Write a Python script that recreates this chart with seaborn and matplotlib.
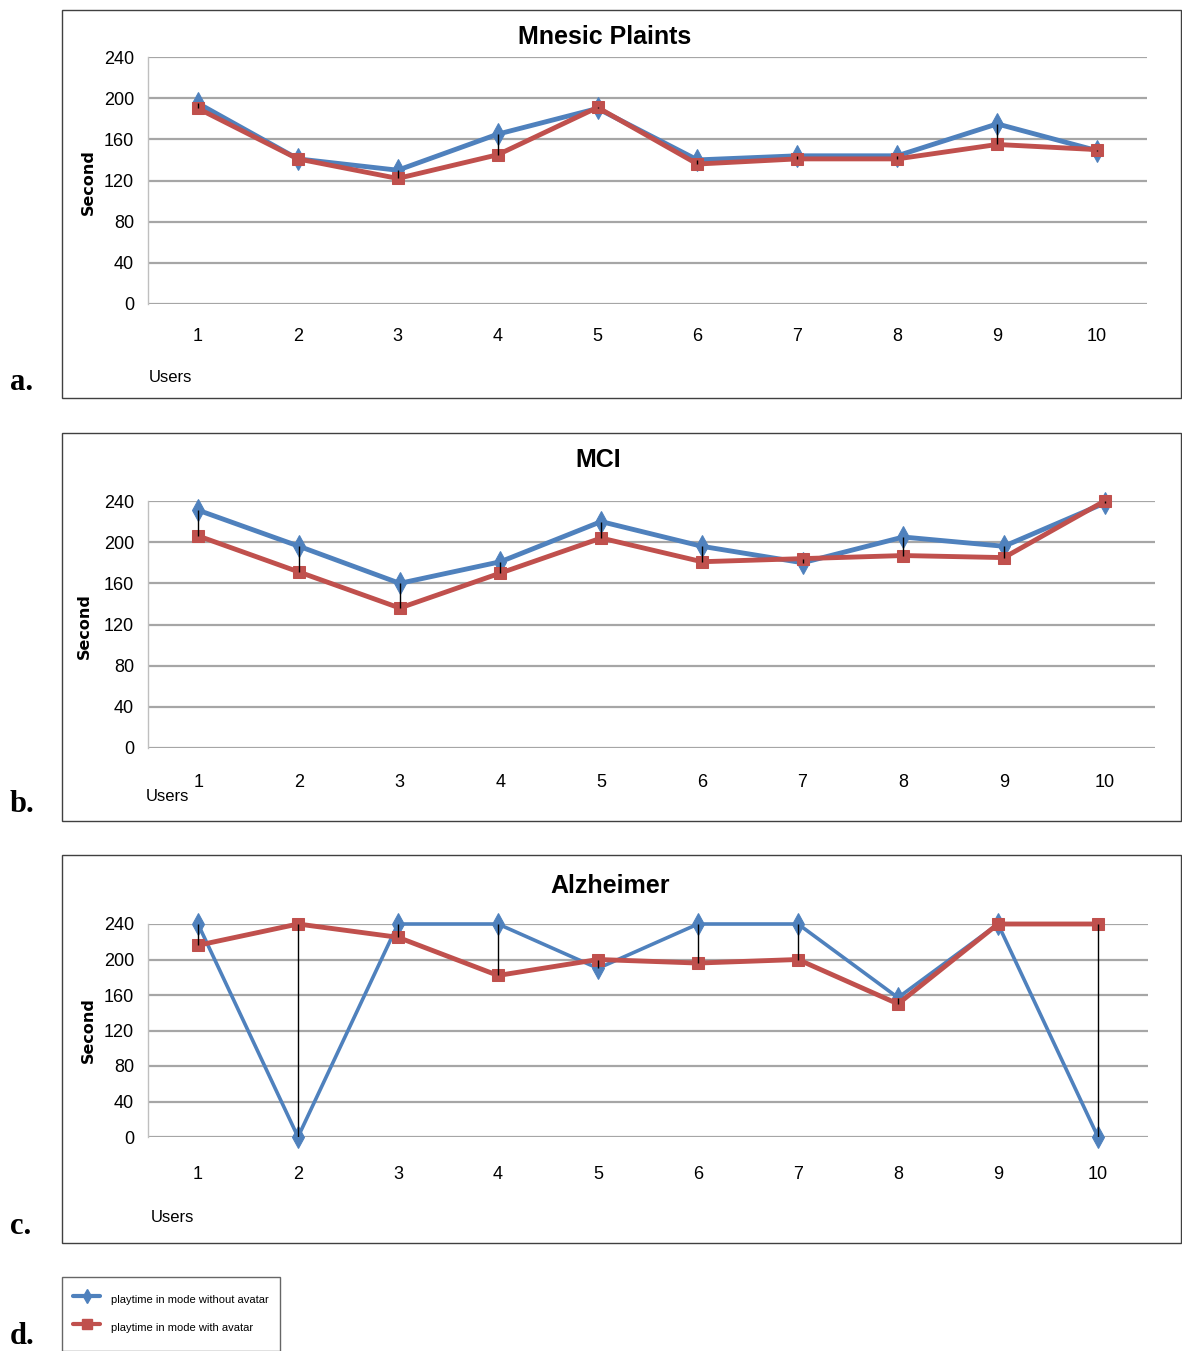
import matplotlib.pyplot as plt
import seaborn as sns
from matplotlib.lines import Line2D
from matplotlib.patches import Rectangle

USERS = list(range(1, 11))
Y_TICKS = [0, 40, 80, 120, 160, 200, 240]

TITLES = ["Mnesic Plaints", "MCI", "Alzheimer"]
PANEL_LETTERS = ["a.", "b.", "c.", "d."]
LEGEND_LABELS = ["playtime in mode without avatar", "playtime in mode with avatar"]

# seconds played
MNESIC_NO_AVATAR = [195, 141, 130, 165, 190, 140, 144, 144, 175, 149]
MNESIC_AVATAR = [190, 141, 122, 145, 191, 136, 141, 141, 155, 150]
MCI_NO_AVATAR = [231, 196, 160, 181, 220, 196, 180, 205, 196, 238]
MCI_AVATAR = [206, 171, 136, 170, 204, 181, 184, 187, 185, 240]
ALZ_NO_AVATAR = [240, 0, 240, 240, 190, 240, 240, 157, 240, 0]
ALZ_AVATAR = [216, 240, 225, 182, 200, 196, 200, 150, 240, 240]

BLUE = "#4F81BD"
RED = "#C0504D"
GRID = "#A6A6A6"
SANS = ["Liberation Sans", "DejaVu Sans"]

W, H = 1182, 1351


def fx(px):
    return px / W


def fy(py):
    return 1 - py / H


def draw_panel(fig, rect, title, title_xy, no_avatar, avatar, blue_lw, tick_pad,
               users_xy, second_xy, frame, letter_y):
    x0, y0, x1, y1 = rect
    ax = fig.add_axes([fx(x0), fy(y1), fx(x1 - x0), (y1 - y0) / H])

    sns.lineplot(x=USERS, y=no_avatar, color=BLUE, linewidth=blue_lw, marker="d",
                 markersize=11, markeredgecolor=BLUE, ax=ax, zorder=3, clip_on=False)
    sns.lineplot(x=USERS, y=avatar, color=RED, linewidth=3.5, marker="s",
                 markersize=9, markeredgecolor=RED, ax=ax, zorder=4, clip_on=False)
    lows = [min(a, b) for a, b in zip(no_avatar, avatar)]
    highs = [max(a, b) for a, b in zip(no_avatar, avatar)]
    ax.vlines(USERS, lows, highs, color="black", linewidth=1, zorder=5)

    ax.set_xlim(0.5, 10.5)
    ax.set_ylim(0, 240)
    ax.set_xticks(USERS)
    ax.set_yticks(Y_TICKS)
    ax.set_xlabel("")
    ax.set_ylabel("")
    ax.grid(axis="y", color=GRID, linewidth=1.6)
    ax.set_axisbelow(True)
    for side in ["top", "right", "bottom"]:
        ax.spines[side].set_visible(False)
    ax.spines["left"].set_color("#BFBFBF")
    ax.spines["left"].set_linewidth(1)
    ax.tick_params(axis="y", length=6, color=GRID, width=1.6, pad=4, labelsize=13,
                   labelcolor="black")
    ax.tick_params(axis="x", length=0, pad=tick_pad, labelsize=13, labelcolor="black")
    for lab in ax.get_xticklabels() + ax.get_yticklabels():
        lab.set_family(SANS)
    ax.patch.set_alpha(0)

    fig.text(fx(title_xy[0]), fy(title_xy[1]), title, ha="center", va="center",
             fontsize=18, fontweight="bold", family=SANS, color="black")
    fig.text(fx(users_xy[0]), fy(users_xy[1]), "Users", ha="center", va="center",
             fontsize=12, family=SANS, color="black")
    fig.text(fx(second_xy[0]), fy(second_xy[1]), "Second", ha="center", va="center",
             rotation=90, fontsize=11.5, fontweight="bold", family="DejaVu Sans",
             color="black")

    fx0, fy0, fx1, fy1 = frame
    fig.patches.append(Rectangle((fx(fx0), fy(fy1)), fx(fx1 - fx0), (fy1 - fy0) / H,
                                 transform=fig.transFigure, fill=False,
                                 edgecolor="#404040", linewidth=1))
    return ax


def main():
    sns.set_style("white")
    plt.rcParams["font.family"] = SANS
    plt.rcParams["text.color"] = "black"
    fig = plt.figure(figsize=(W / 100, H / 100), dpi=100)

    panels = [
        dict(rect=(148, 57, 1147, 304), title_xy=(605, 37), no_avatar=MNESIC_NO_AVATAR,
             avatar=MNESIC_AVATAR, blue_lw=3.5, tick_pad=17, users_xy=(170, 377),
             second_xy=(88, 182), frame=(62, 10, 1181, 398), letter_y=383),
        dict(rect=(148, 501, 1155, 748), title_xy=(598, 460), no_avatar=MCI_NO_AVATAR,
             avatar=MCI_AVATAR, blue_lw=3.5, tick_pad=19, users_xy=(167, 796),
             second_xy=(84, 626), frame=(62, 433, 1181, 821), letter_y=805),
        dict(rect=(148, 924, 1148, 1137), title_xy=(610, 886), no_avatar=ALZ_NO_AVATAR,
             avatar=ALZ_AVATAR, blue_lw=2.6, tick_pad=21, users_xy=(172, 1218),
             second_xy=(88, 1030), frame=(62, 855, 1181, 1243), letter_y=1227),
    ]
    for i, (title, p) in enumerate(zip(TITLES, panels)):
        draw_panel(fig, title=title, **p)
        fig.text(fx(10), fy(p["letter_y"]), PANEL_LETTERS[i], ha="left", va="center",
                 fontsize=22, fontweight="bold", family="Liberation Serif")

    fig.text(fx(10), fy(1337), PANEL_LETTERS[3], ha="left", va="center",
             fontsize=22, fontweight="bold", family="Liberation Serif")

    handles = [
        Line2D([], [], color=BLUE, linewidth=3, marker="d", markersize=7, markeredgecolor=BLUE),
        Line2D([], [], color=RED, linewidth=3, marker="s", markersize=7, markeredgecolor=RED),
    ]
    leg = fig.legend(handles, LEGEND_LABELS, loc="upper left",
                     bbox_to_anchor=(fx(62), fy(1277)), borderaxespad=0,
                     frameon=True, fancybox=False, edgecolor="#404040",
                     handlelength=2.45, handletextpad=1.0, handleheight=2.8,
                     borderpad=1.0, labelspacing=0.5,
                     prop={"family": SANS, "size": 8})
    leg.get_frame().set_linewidth(1)

    plt.savefig("out.png", dpi=100)
    plt.close()


if __name__ == "__main__":
    main()
